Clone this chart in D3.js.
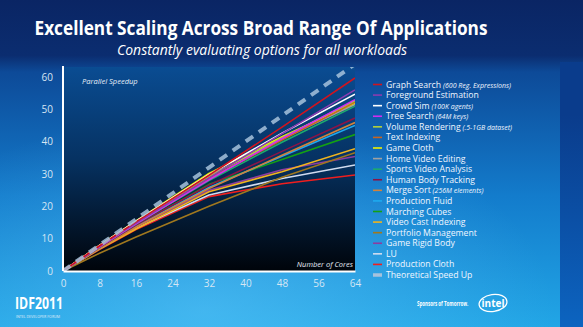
<!DOCTYPE html>
<html>
<head>
<meta charset="utf-8">
<script src="https://cdn.jsdelivr.net/npm/d3@7"></script>
<style>
  html, body { margin: 0; padding: 0; background: #0a2a6a; }
  svg { display: block; }
</style>
</head>
<body>
<svg id="chart" width="583" height="327"></svg>
<script>
// Core counts at which speedup was measured
const cores = [0, 8, 16, 32, 48, 64];

// Workload names (legend order) and their colours
const workloads = [
  "Graph Search", "Foreground Estimation", "Crowd Sim", "Tree Search",
  "Volume Rendering", "Text Indexing", "Game Cloth", "Home Video Editing",
  "Sports Video Analysis", "Human Body Tracking", "Merge Sort", "Production Fluid",
  "Marching Cubes", "Video Cast Indexing", "Portfolio Management", "Game Rigid Body",
  "LU", "Production Cloth"
];
const notes = [
  "(600 Reg. Expressions)", "", "(100K agents)", "(64M keys)",
  "(.5-1GB dataset)", "", "", "", "", "", "(256M elements)", "",
  "", "", "", "", "", ""
];
const colors = [
  "#d0141e", "#8a3cb0", "#ffffff", "#d22cf0",
  "#b4d23c", "#c8641e", "#f0f000", "#a0a0a0",
  "#1eaa6e", "#8c1446", "#d2823c", "#1eaaf0",
  "#14a014", "#f0b41e", "#a0781e", "#8c3ca0",
  "#d2dcf0", "#f01e1e"
];

// Parallel speedup per workload, one value per entry of `cores`
const speedups = [
  [0, 7.8, 15.2, 29.6, 44.5, 59.7],
  [0, 7.6, 14.8, 28.8, 42.5, 56.0],
  [0, 7.9, 15.4, 29.8, 42.6, 54.7],
  [0, 7.5, 14.6, 28.2, 41.0, 53.0],
  [0, 7.7, 15.0, 29.2, 41.2, 52.7],
  [0, 7.6, 14.8, 28.6, 40.5, 52.2],
  [0, 7.9, 15.5, 30.2, 41.5, 52.0],
  [0, 7.8, 15.3, 29.5, 40.8, 51.5],
  [0, 7.5, 14.5, 28.0, 39.8, 51.0],
  [0, 7.3, 14.2, 26.5, 37.0, 47.3],
  [0, 7.0, 13.6, 25.5, 35.8, 45.9],
  [0, 7.0, 13.8, 25.8, 35.5, 45.0],
  [0, 7.2, 14.0, 26.8, 34.5, 42.2],
  [0, 6.8, 13.0, 24.5, 30.7, 37.8],
  [0, 5.5, 10.5, 20.0, 29.0, 36.6],
  [0, 7.0, 13.5, 25.0, 31.3, 35.4],
  [0, 7.0, 13.2, 23.5, 28.6, 32.8],
  [0, 6.6, 12.8, 23.0, 27.0, 29.7]
];

// Ideal linear speedup
const theoretical = [0, 8, 16, 32, 48, 64];
const theoreticalLabel = "Theoretical Speed Up";

const xTicks = [0, 8, 16, 24, 32, 40, 48, 56, 64];
const yTicks = [0, 10, 20, 30, 40, 50, 60];

const title = "Excellent Scaling Across Broad Range Of Applications";
const subtitle = "Constantly evaluating options for all workloads";

const svg = d3.select("#chart");
const W = 583, H = 327;
const defs = svg.append("defs");

// ---- slide background ----
const bg = defs.append("linearGradient").attr("id", "bg").attr("x1", 0).attr("y1", 0).attr("x2", 0).attr("y2", 1);
bg.append("stop").attr("offset", "0").attr("stop-color", "#0a2564");
bg.append("stop").attr("offset", "0.17").attr("stop-color", "#0b2d70");
bg.append("stop").attr("offset", "0.22").attr("stop-color", "#0d4a98");
bg.append("stop").attr("offset", "0.6").attr("stop-color", "#137ccc");
bg.append("stop").attr("offset", "1").attr("stop-color", "#22a6e6");
svg.append("rect").attr("width", W).attr("height", H).attr("fill", "url(#bg)");

const glow = defs.append("radialGradient").attr("id", "glow").attr("cx", 0.35).attr("cy", 0.95).attr("r", 0.6);
glow.append("stop").attr("offset", "0").attr("stop-color", "#6cd0ff").attr("stop-opacity", 0.45);
glow.append("stop").attr("offset", "1").attr("stop-color", "#6cd0ff").attr("stop-opacity", 0);
svg.append("rect").attr("width", W).attr("height", H).attr("fill", "url(#glow)");

// darker strip on the right edge
const strip = defs.append("linearGradient").attr("id", "strip").attr("x1", 0).attr("y1", 0).attr("x2", 0).attr("y2", 1);
strip.append("stop").attr("offset", "0.2").attr("stop-color", "#0a3c8c");
strip.append("stop").attr("offset", "1").attr("stop-color", "#0c64c0");
svg.append("rect").attr("x", 560).attr("y", 62).attr("width", 23).attr("height", H - 62).attr("fill", "url(#strip)");

// ---- titles ----
svg.append("text").attr("x", 261).attr("y", 35)
  .attr("text-anchor", "middle")
  .attr("textLength", 453).attr("lengthAdjust", "spacingAndGlyphs")
  .attr("font-family", "Open Sans, sans-serif").attr("font-weight", "bold")
  .attr("font-size", 20).attr("fill", "#ffffff").text(title);
svg.append("text").attr("x", 262).attr("y", 55)
  .attr("text-anchor", "middle")
  .attr("textLength", 290).attr("lengthAdjust", "spacingAndGlyphs")
  .attr("font-family", "Open Sans, sans-serif").attr("font-style", "italic")
  .attr("font-size", 14).attr("fill", "#ffffff").text(subtitle);

// ---- plot ----
const x = d3.scaleLinear().domain([0, 64]).range([63, 355]);
const y = d3.scaleLinear().domain([0, 60]).range([271, 77]);
const plotTop = 67;

const pg = defs.append("linearGradient").attr("id", "plotbg").attr("x1", 0).attr("y1", 0).attr("x2", 0).attr("y2", 1);
pg.append("stop").attr("offset", "0").attr("stop-color", "#0a4c92");
pg.append("stop").attr("offset", "0.45").attr("stop-color", "#063262");
pg.append("stop").attr("offset", "1").attr("stop-color", "#00040a");
svg.append("rect").attr("x", x(0)).attr("y", plotTop)
  .attr("width", x(64) - x(0)).attr("height", y(0) - plotTop)
  .attr("fill", "url(#plotbg)");

defs.append("clipPath").attr("id", "plotclip").append("rect")
  .attr("x", x(0)).attr("y", plotTop).attr("width", x(64) - x(0)).attr("height", y(0) - plotTop);

const line = d3.line().x((d, i) => x(cores[i])).y(d => y(d));

const lines = svg.append("g").attr("clip-path", "url(#plotclip)");
// lowest workloads first so the best-scaling ones sit on top
for (let i = workloads.length - 1; i >= 0; i--) {
  lines.append("path").datum(speedups[i])
    .attr("d", line).attr("fill", "none")
    .attr("stroke", colors[i]).attr("stroke-width", 1.6)
    .attr("stroke-linejoin", "round");
}
lines.append("path").datum(theoretical)
  .attr("d", line).attr("fill", "none")
  .attr("stroke", "#a6c2dc").attr("stroke-opacity", 0.85)
  .attr("stroke-width", 4).attr("stroke-dasharray", "9,7");

// axes
const xAxis = d3.axisBottom(x).tickValues(xTicks).tickSize(0).tickPadding(9);
const gx = svg.append("g").attr("transform", `translate(0,${y(0)})`).call(xAxis);
gx.select(".domain").attr("stroke", "#ffffff").attr("stroke-width", 2);
gx.selectAll("text").attr("fill", "#d6e6f4").attr("font-size", 10)
  .attr("font-family", "Open Sans, sans-serif");

const yAxis = d3.axisLeft(y).tickValues(yTicks).tickSize(0).tickPadding(10);
const gy = svg.append("g").attr("transform", `translate(${x(0)},0)`).call(yAxis);
gy.select(".domain").remove();
gy.selectAll("text").attr("fill", "#d6e6f4").attr("font-size", 10)
  .attr("font-family", "Open Sans, sans-serif");
svg.append("line").attr("x1", x(0)).attr("x2", x(0)).attr("y1", 66).attr("y2", y(0))
  .attr("stroke", "#ffffff").attr("stroke-width", 2);

svg.append("text").attr("x", 82).attr("y", 84)
  .attr("font-family", "Open Sans, sans-serif").attr("font-style", "italic")
  .attr("font-size", 7.5).attr("fill", "#e6eef8").text("Parallel Speedup");
svg.append("text").attr("x", 353).attr("y", 267).attr("text-anchor", "end")
  .attr("font-family", "Open Sans, sans-serif").attr("font-style", "italic")
  .attr("font-size", 7.5).attr("fill", "#e6eef8").text("Number of Cores");

// ---- legend ----
const legend = svg.append("g").attr("font-family", "Open Sans, sans-serif");
const ly = d3.scaleLinear().domain([0, workloads.length]).range([84.5, 275]);
workloads.forEach((name, i) => {
  const row = legend.append("g").attr("transform", `translate(0,${ly(i)})`);
  row.append("line").attr("x1", 373).attr("x2", 382).attr("y1", 0).attr("y2", 0)
    .attr("stroke", colors[i]).attr("stroke-width", 1.6);
  const t = row.append("text").attr("x", 386).attr("y", 3)
    .attr("font-size", 8.7).attr("fill", "#f0f6ff").text(name);
  if (notes[i]) {
    t.append("tspan").attr("font-style", "italic").attr("font-size", 7).text(" " + notes[i]);
  }
});
const lrow = legend.append("g").attr("transform", `translate(0,${ly(workloads.length)})`);
lrow.append("line").attr("x1", 373).attr("x2", 382).attr("y1", 0).attr("y2", 0)
  .attr("stroke", "#a6c2dc").attr("stroke-width", 3.5);
lrow.append("text").attr("x", 386).attr("y", 3)
  .attr("font-size", 8.7).attr("fill", "#f0f6ff").text(theoreticalLabel);

// ---- footer ----
svg.append("text").attr("x", 15).attr("y", 309)
  .attr("font-family", "Open Sans, sans-serif").attr("font-weight", "bold")
  .attr("font-size", 16).attr("fill", "#ffffff")
  .attr("textLength", 48).attr("lengthAdjust", "spacingAndGlyphs").text("IDF2011");
svg.append("text").attr("x", 16).attr("y", 318)
  .attr("font-family", "Open Sans, sans-serif")
  .attr("font-size", 3.5).attr("fill", "#e0ecf8")
  .attr("textLength", 44).attr("lengthAdjust", "spacingAndGlyphs").text("INTEL DEVELOPER FORUM");

// tagline, squeezed horizontally to fit beside the logo
svg.append("g").attr("transform", "translate(417,306) scale(0.72,1)")
  .append("text").attr("x", 0).attr("y", 0)
  .attr("font-family", "Open Sans, sans-serif").attr("font-weight", "bold")
  .attr("font-size", 6.2).attr("fill", "#ffffff").text("Sponsors of Tomorrow.");
svg.append("ellipse").attr("cx", 493).attr("cy", 303).attr("rx", 14).attr("ry", 8.5)
  .attr("fill", "none").attr("stroke", "#ffffff").attr("stroke-width", 1.3)
  .attr("transform", "rotate(-8 493 303)");
svg.append("text").attr("x", 493).attr("y", 307).attr("text-anchor", "middle")
  .attr("font-family", "Open Sans, sans-serif").attr("font-weight", "bold")
  .attr("font-size", 10).attr("fill", "#ffffff").text("intel");
</script>
</body>
</html>
